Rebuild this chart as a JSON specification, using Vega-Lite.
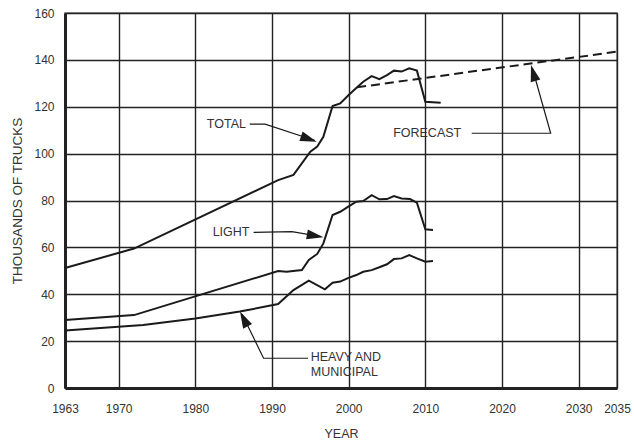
{
  "$schema": "https://vega.github.io/schema/vega-lite/v6.json",
  "width": 552,
  "height": 375,
  "autosize": {"type": "none"},
  "padding": {"left": 65, "top": 13, "right": 17, "bottom": 60},
  "background": "white",
  "config": {
    "font": "Liberation Sans",
    "view": {"stroke": "#777", "strokeWidth": 1.5},
    "axis": {
      "grid": true,
      "gridColor": "#222",
      "gridWidth": 1.4,
      "gridOpacity": 1,
      "ticks": false,
      "domainColor": "#222",
      "domainWidth": 3,
      "labelFont": "Liberation Sans",
      "labelFontSize": 12,
      "labelColor": "#333",
      "titleFont": "Liberation Sans",
      "titleFontSize": 12.5,
      "titleFontWeight": "normal",
      "titleColor": "#333"
    }
  },
  "datasets": {
    "series": [
      {"s": "total", "year": 1963, "v": 51.2},
      {"s": "total", "year": 1972, "v": 59.5},
      {"s": "total", "year": 1990.8, "v": 88.7},
      {"s": "total", "year": 1992.8, "v": 90.9},
      {"s": "total", "year": 1995, "v": 100.8},
      {"s": "total", "year": 1995.9, "v": 103},
      {"s": "total", "year": 1996.7, "v": 107.2},
      {"s": "total", "year": 1997.9, "v": 120.3},
      {"s": "total", "year": 1998.9, "v": 121.4},
      {"s": "total", "year": 2000, "v": 125},
      {"s": "total", "year": 2001.1, "v": 128.3},
      {"s": "total", "year": 2001.9, "v": 130.7},
      {"s": "total", "year": 2003, "v": 133.1},
      {"s": "total", "year": 2004, "v": 131.8},
      {"s": "total", "year": 2005, "v": 133.5},
      {"s": "total", "year": 2005.9, "v": 135.4},
      {"s": "total", "year": 2006.9, "v": 135},
      {"s": "total", "year": 2007.9, "v": 136.4},
      {"s": "total", "year": 2008.9, "v": 135.4},
      {"s": "total", "year": 2010, "v": 122.1},
      {"s": "total", "year": 2012, "v": 121.7},
      {"s": "light", "year": 1963, "v": 29},
      {"s": "light", "year": 1972, "v": 31.1},
      {"s": "light", "year": 1990.8, "v": 49.9},
      {"s": "light", "year": 1991.9, "v": 49.6},
      {"s": "light", "year": 1993.9, "v": 50.3},
      {"s": "light", "year": 1994.8, "v": 54.6},
      {"s": "light", "year": 1995.9, "v": 57.2},
      {"s": "light", "year": 1996.7, "v": 61.7},
      {"s": "light", "year": 1997.9, "v": 73.8},
      {"s": "light", "year": 1998.9, "v": 75.2},
      {"s": "light", "year": 1999.9, "v": 77.3},
      {"s": "light", "year": 2001, "v": 79.5},
      {"s": "light", "year": 2001.9, "v": 79.8},
      {"s": "light", "year": 2003, "v": 82.3},
      {"s": "light", "year": 2004, "v": 80.5},
      {"s": "light", "year": 2005, "v": 80.6},
      {"s": "light", "year": 2005.9, "v": 81.9},
      {"s": "light", "year": 2006.9, "v": 80.9},
      {"s": "light", "year": 2008, "v": 80.6},
      {"s": "light", "year": 2008.9, "v": 79.1},
      {"s": "light", "year": 2010, "v": 67.7},
      {"s": "light", "year": 2011, "v": 67.4},
      {"s": "heavy", "year": 1963, "v": 24.5},
      {"s": "heavy", "year": 1973.2, "v": 26.9},
      {"s": "heavy", "year": 1980, "v": 29.7},
      {"s": "heavy", "year": 1985.8, "v": 32.6},
      {"s": "heavy", "year": 1990.8, "v": 35.8},
      {"s": "heavy", "year": 1992.8, "v": 41.8},
      {"s": "heavy", "year": 1994.8, "v": 45.8},
      {"s": "heavy", "year": 1996.9, "v": 42.1},
      {"s": "heavy", "year": 1997.9, "v": 44.9},
      {"s": "heavy", "year": 1998.9, "v": 45.4},
      {"s": "heavy", "year": 1999.9, "v": 46.9},
      {"s": "heavy", "year": 2001, "v": 48.2},
      {"s": "heavy", "year": 2001.9, "v": 49.6},
      {"s": "heavy", "year": 2003, "v": 50.3},
      {"s": "heavy", "year": 2004, "v": 51.5},
      {"s": "heavy", "year": 2005, "v": 52.8},
      {"s": "heavy", "year": 2005.9, "v": 55},
      {"s": "heavy", "year": 2006.9, "v": 55.3},
      {"s": "heavy", "year": 2007.9, "v": 56.7},
      {"s": "heavy", "year": 2008.9, "v": 55.3},
      {"s": "heavy", "year": 2010, "v": 53.9},
      {"s": "heavy", "year": 2011, "v": 54.2}
    ],
    "forecast": [
      {"year": 2001.1, "v": 128.3},
      {"year": 2035, "v": 143.5}
    ],
    "leaders": [
      {"id": "total", "i": 1, "year": 1987.1, "v": 112.6},
      {"id": "total", "i": 2, "year": 1989.1, "v": 112.6},
      {"id": "total", "i": 3, "year": 1995.6, "v": 105.6},
      {"id": "light", "i": 1, "year": 1987.6, "v": 66.4},
      {"id": "light", "i": 2, "year": 1992.6, "v": 66.7},
      {"id": "light", "i": 3, "year": 1996.4, "v": 64.6},
      {"id": "heavy", "i": 1, "year": 1994.7, "v": 12.7},
      {"id": "heavy", "i": 2, "year": 1988.9, "v": 12.7},
      {"id": "heavy", "i": 3, "year": 1986.1, "v": 31.5},
      {"id": "forecast", "i": 1, "year": 2016.05, "v": 108.7},
      {"id": "forecast", "i": 2, "year": 2026.35, "v": 108.7},
      {"id": "forecast", "i": 3, "year": 2024, "v": 136}
    ],
    "tips": [
      {"id": "total", "year": 1995.83, "v": 105.1},
      {"id": "light", "year": 1996.69, "v": 64.3},
      {"id": "heavy", "year": 1985.83, "v": 32.6},
      {"id": "forecast", "year": 2023.78, "v": 137.8}
    ],
    "labels": [
      {"label": "TOTAL", "year": 1981.5, "v": 112.6},
      {"label": "LIGHT", "year": 1982.26, "v": 66.4},
      {"label": "HEAVY AND", "year": 1995.05, "v": 13.2},
      {"label": "MUNICIPAL", "year": 1995.05, "v": 6.8},
      {"label": "FORECAST", "year": 2005.8, "v": 108.7}
    ]
  },
  "layer": [
    {
      "data": {"name": "series"},
      "mark": {"type": "line", "color": "#1a1a1a", "strokeWidth": 2, "strokeJoin": "miter"},
      "encoding": {
        "x": {
          "field": "year", "type": "quantitative",
          "scale": {"domain": [1963, 2035], "nice": false, "zero": false},
          "axis": {
            "values": [1963, 1970, 1980, 1990, 2000, 2010, 2020, 2030, 2035],
            "format": "d", "labelPadding": 15, "title": "YEAR",
            "titleY": 45, "titleBaseline": "middle", "labelFlush": false
          }
        },
        "y": {
          "field": "v", "type": "quantitative",
          "scale": {"domain": [0, 160], "nice": false},
          "axis": {
            "values": [0, 20, 40, 60, 80, 100, 120, 140, 160],
            "labelPadding": 11, "title": "THOUSANDS OF TRUCKS",
            "titleX": -48, "titleY": 187.5, "titleBaseline": "middle", "titleAlign": "center",
            "titleFontSize": 13.5, "labelFlush": false
          }
        },
        "detail": {"field": "s"}
      }
    },
    {
      "data": {"name": "forecast"},
      "mark": {"type": "line", "color": "#1a1a1a", "strokeWidth": 2, "strokeDash": [9, 5]},
      "encoding": {
        "x": {"field": "year", "type": "quantitative"},
        "y": {"field": "v", "type": "quantitative"}
      }
    },
    {
      "data": {"name": "leaders"},
      "mark": {"type": "line", "color": "#1a1a1a", "strokeWidth": 1.2},
      "encoding": {
        "x": {"field": "year", "type": "quantitative"},
        "y": {"field": "v", "type": "quantitative"},
        "detail": {"field": "id"},
        "order": {"field": "i"}
      }
    },
    {
      "data": {"name": "tips"},
      "transform": [{"filter": "datum.id === 'total'"}],
      "mark": {"type": "point", "shape": "M0,0L0.3,1L-0.3,1Z", "filled": true, "color": "#1a1a1a", "opacity": 1, "size": 1100, "angle": 109},
      "encoding": {
        "x": {"field": "year", "type": "quantitative"},
        "y": {"field": "v", "type": "quantitative"}
      }
    },
    {
      "data": {"name": "tips"},
      "transform": [{"filter": "datum.id === 'light'"}],
      "mark": {"type": "point", "shape": "M0,0L0.3,1L-0.3,1Z", "filled": true, "color": "#1a1a1a", "opacity": 1, "size": 1100, "angle": 100},
      "encoding": {
        "x": {"field": "year", "type": "quantitative"},
        "y": {"field": "v", "type": "quantitative"}
      }
    },
    {
      "data": {"name": "tips"},
      "transform": [{"filter": "datum.id === 'heavy'"}],
      "mark": {"type": "point", "shape": "M0,0L0.3,1L-0.3,1Z", "filled": true, "color": "#1a1a1a", "opacity": 1, "size": 1100, "angle": 333},
      "encoding": {
        "x": {"field": "year", "type": "quantitative"},
        "y": {"field": "v", "type": "quantitative"}
      }
    },
    {
      "data": {"name": "tips"},
      "transform": [{"filter": "datum.id === 'forecast'"}],
      "mark": {"type": "point", "shape": "M0,0L0.3,1L-0.3,1Z", "filled": true, "color": "#1a1a1a", "opacity": 1, "size": 1100, "angle": 344},
      "encoding": {
        "x": {"field": "year", "type": "quantitative"},
        "y": {"field": "v", "type": "quantitative"}
      }
    },
    {
      "data": {"name": "labels"},
      "mark": {"type": "text", "align": "left", "baseline": "middle", "font": "Liberation Sans", "fontSize": 12.5, "color": "#333"},
      "encoding": {
        "x": {"field": "year", "type": "quantitative"},
        "y": {"field": "v", "type": "quantitative"},
        "text": {"field": "label"}
      }
    }
  ]
}
